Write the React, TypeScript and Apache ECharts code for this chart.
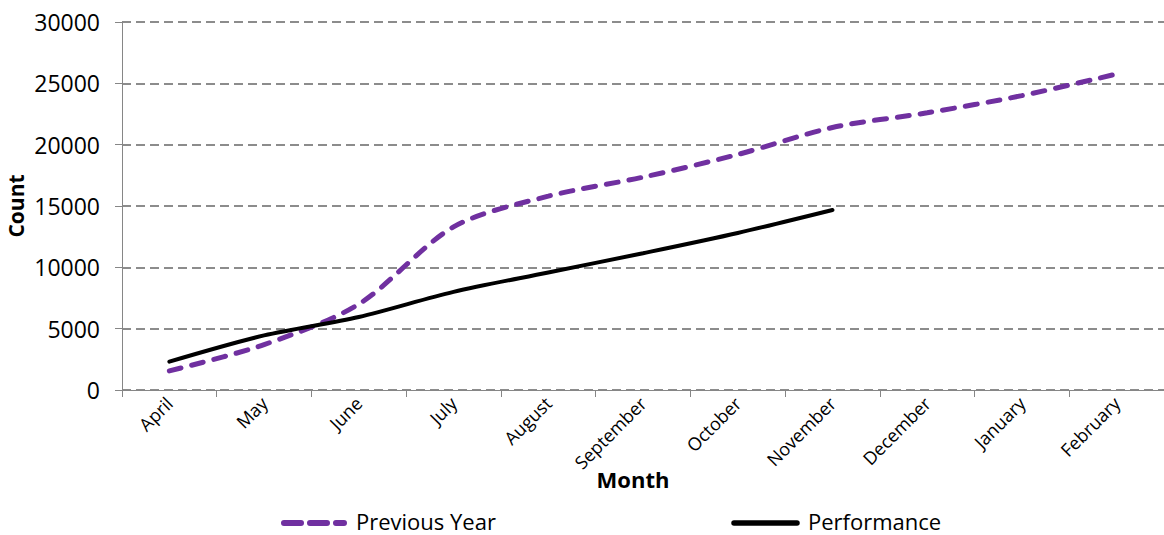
import React, { useEffect, useRef } from "react";
import * as echarts from "echarts";

const months = ["April", "May", "June", "July", "August", "September", "October", "November", "December", "January", "February"];
const previousYear = [1560, 3700, 7000, 13300, 15800, 17350, 19200, 21400, 22600, 24000, 25760];
const performance = [2310, 4450, 5950, 8000, 9580, 11150, 12800, 14670];
const yTicks = { min: 0, max: 30000, interval: 5000 };
const legendNames = ["Previous Year", "Performance"];

const FONT = "'Open Sans', 'Noto Sans', sans-serif";
const PURPLE = "#7030A0";

export default function App() {
  const ref = useRef<HTMLDivElement>(null);
  useEffect(() => {
    document.body.style.margin = "0";
    const chart = echarts.init(ref.current!, null, { renderer: "svg" });
    chart.setOption({
      animation: false,
      backgroundColor: "#ffffff",
      textStyle: { fontFamily: FONT },
      grid: { left: 122, top: 22, right: 0, bottom: 145, containLabel: false, outerBoundsMode: "none" },
      xAxis: {
        type: "category",
        data: months,
        boundaryGap: true,
        name: "Month",
        nameLocation: "middle",
        nameGap: 78,
        nameMoveOverlap: false,
        nameTextStyle: { fontFamily: FONT, fontWeight: "bold", fontSize: 22, color: "#000", padding: [0, 20, 0, 0] },
        axisLine: { lineStyle: { color: "#868686", width: 1 } },
        axisTick: { show: true, length: 7, alignWithLabel: false, lineStyle: { color: "#868686" } },
        axisLabel: { rotate: 45, fontFamily: FONT, fontSize: 18, color: "#000", margin: 10, interval: 0 },
        splitLine: { show: false },
      },
      yAxis: {
        type: "value",
        min: yTicks.min,
        max: yTicks.max,
        interval: yTicks.interval,
        name: "Count",
        nameLocation: "middle",
        nameGap: 96,
        nameMoveOverlap: false,
        nameRotate: 90,
        nameTextStyle: { fontFamily: FONT, fontWeight: "bold", fontSize: 21, color: "#000" },
        axisLine: { show: true, lineStyle: { color: "#868686", width: 1 } },
        axisTick: { show: true, length: 7, lineStyle: { color: "#868686" } },
        axisLabel: { fontFamily: FONT, fontSize: 23, color: "#000", margin: 22, formatter: (v: number) => String(v) },
        splitLine: { show: true, lineStyle: { color: "#8c8c8c", width: 2, type: [9, 5] } },
      },
      legend: { show: false },
      graphic: [
        { type: "line", shape: { x1: 284, y1: 523, x2: 344, y2: 523 }, style: { stroke: PURPLE, lineWidth: 6, lineCap: "round", lineDash: [17, 9] } },
        { type: "text", x: 356, y: 521, style: { text: legendNames[0], font: `22px ${FONT}`, fill: "#000", verticalAlign: "middle" } },
        { type: "line", shape: { x1: 734, y1: 523, x2: 797, y2: 523 }, style: { stroke: "#000", lineWidth: 5.5, lineCap: "round" } },
        { type: "text", x: 808, y: 521, style: { text: legendNames[1], font: `22px ${FONT}`, fill: "#000", verticalAlign: "middle" } },
      ],
      series: [
        {
          name: legendNames[0],
          type: "line",
          data: previousYear,
          smooth: 0.3,
          symbol: "none",
          lineStyle: { color: PURPLE, width: 5, type: [12, 11], cap: "round" },
          itemStyle: { color: PURPLE },
        },
        {
          name: legendNames[1],
          type: "line",
          data: performance,
          smooth: 0.3,
          symbol: "none",
          lineStyle: { color: "#000000", width: 4, cap: "round" },
          itemStyle: { color: "#000000" },
        },
      ],
    });
    return () => chart.dispose();
  }, []);
  return <div ref={ref} style={{ position: "absolute", left: 0, top: 0, width: 1164, height: 535 }} />;
}
